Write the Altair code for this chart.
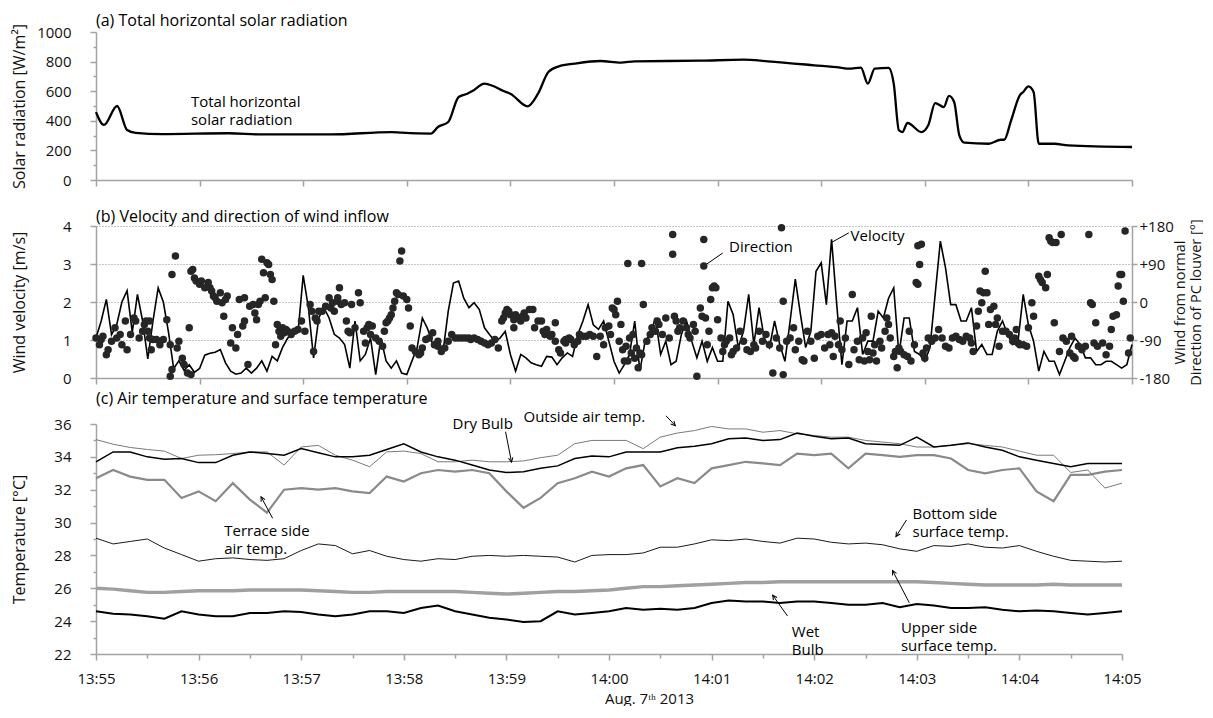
import math
from datetime import datetime, timedelta
import altair as alt
import pandas as pd

# ---------------- data ----------------
# (a) total horizontal solar radiation: seconds after 13:55:00, W/m2
solar_sec = [0, 4.6, 12.2, 18, 23, 38, 77, 96, 136, 171,
             177, 194, 198, 204, 210, 215, 218, 225, 230, 236,
             240, 250, 256, 262, 268, 277, 292, 304, 312, 350,
             375, 389, 416, 431, 436, 443, 447, 451, 459, 462,
             465, 467, 470, 478, 482, 486, 491, 494, 497, 500,
             503, 517, 524, 526, 530, 535, 537, 540, 543, 546,
             555, 563, 600]
solar_wm2 = [459, 372, 500, 338, 318, 310, 316, 308, 308, 324,
             320, 314, 358, 392, 561, 583, 601, 651, 635, 601,
             583, 498, 583, 730, 768, 786, 804, 793, 802, 806,
             813, 802, 775, 759, 752, 759, 651, 752, 757, 651,
             336, 324, 385, 324, 370, 520, 493, 568, 527, 302,
             252, 245, 272, 272, 403, 572, 595, 633, 595, 245,
             245, 234, 223]

# (b) wind velocity, one value every 3 s from 13:55:00 (m/s)
velocity_step_s = 3
velocity_ms = [
    1.05, 1.5, 2.07, 1.14, 1.4, 2.0, 2.3, 1.2, 2.2, 1.5,
    0.5, 1.5, 2.37, 2.0, 1.2, 0.25, 0.45, 0.2, 0.35, 0.15,
    0.25, 0.6, 0.65, 0.68, 0.75, 0.4, 0.18, 0.1, 0.13, 0.26,
    0.13, 0.26, 0.45, 0.18, 0.57, 0.45, 0.8, 1.05, 1.15, 1.2,
    2.7, 1.85, 0.53, 1.58, 1.85, 1.58, 1.15, 1.05, 0.88, 0.26,
    1.5, 0.45, 0.62, 1.05, 0.09, 1.05, 0.45, 0.26, 0.45, 0.13,
    0.09, 0.45, 0.8, 1.58, 1.3, 0.88, 0.97,
    0.7, 1.76, 2.5, 2.55, 2.1, 1.85, 1.98, 1.8, 1.32, 1.14,
    0.97, 1.05, 1.23, 0.62, 0.18, 0.62, 0.53, 0.4, 0.35, 0.31,
    0.57, 0.55, 0.35, 0.53, 0.66, 0.57, 1.14, 1.5, 1.93, 1.4,
    1.28, 1.5, 0.97, 0.44, 0.13, 0.35, 0.62, 1.5, 0.18, 0.97,
    1.14, 1.58, 0.62, 0.97, 0.35, 0.44, 1.14, 1.5, 0.97, 0.53,
    0.97, 0.44, 0.8, 0.44, 0.44, 2.02, 1.67, 0.8, 1.23, 2.2,
    0.88, 1.85, 1.05, 0.8, 1.5, 0.88,
    0.44, 1.5, 2.6, 1.67, 0.8, 1.23, 2.81, 3.03, 1.93, 3.65,
    1.93, 0.35, 1.5, 1.5, 1.85, 0.62, 0.97, 0.97, 1.76, 1.58,
    2.1, 2.37, 0.62, 1.58, 1.58, 0.7, 0.62, 0.44, 0.8, 2.2,
    3.6, 2.9, 1.93, 1.93, 1.5, 1.5, 1.85, 0.7, 0.88, 0.62,
    0.62, 1.23, 1.5, 1.14, 0.88, 0.97, 2.2, 1.4, 0.97, 0.18,
    0.7, 0.44, 0.44, 0.09, 0.44, 0.8, 1.05, 0.88, 0.53, 0.53,
    0.35, 0.35, 0.44, 0.44, 0.35, 0.26, 0.35, 0.88]

# (b) wind direction from normal of PC louver: (seconds, degrees)
direction_points = [
    (0, -85), (2, -101), (3, -89), (4, -81), (6, -125), (7, -113), (9, -93), (11, -61), (12, -85), (14, -77),
    (15, -101), (17, -45), (18, -113), (20, -77), (22, -38), (23, -45), (25, -85), (27, -69), (28, -53), (29, -45),
    (30, -69), (31, -45), (31, -85), (32, -113), (33, -89), (35, -89), (37, -101), (39, -89), (41, -42), (43, -101),
    (43, -176), (44, 65), (44, -160), (46, 109), (47, -109), (48, -93), (50, -133), (51, -148), (53, -168), (54, -61),
    (55, -172), (55, 73), (56, 77), (57, 57), (58, 50), (60, 42), (61, 50), (63, 34), (65, 46), (66, 34),
    (67, 26), (68, 14), (69, 10), (70, 2), (72, 22), (73, -2), (74, -34), (75, 6), (76, 14), (78, -97),
    (79, -61), (81, -109), (82, -77), (83, 6), (85, -57), (86, -45), (86, 10), (88, -148), (89, -10), (91, -6),
    (92, -26), (93, -42), (94, -6), (95, 2), (96, 101), (97, 69), (98, 10), (99, 93), (100, 89), (101, 65),
    (102, 53), (103, 2), (104, -101), (105, -53), (106, -69), (107, -81), (108, -61), (109, -73), (110, -65), (111, -69),
    (113, -77), (115, -69), (117, -65), (119, -45), (121, -69), (124, -6), (125, -22), (126, -117), (127, -38), (128, -45),
    (129, -22), (131, -22), (133, -10), (135, 10), (136, -14), (137, -2), (138, -22), (140, 10), (140, 2), (141, 34),
    (142, -6), (144, -2), (145, -45), (146, -69), (147, -73), (148, -6), (150, -61), (152, 22), (153, -2), (155, -69),
    (156, -97), (157, -61), (158, -53), (159, -77), (160, -57), (162, -85), (164, -93), (166, -105), (167, -69), (168, -49),
    (169, -45), (170, -38), (171, -30), (172, -14), (173, 2), (174, 22), (175, 18), (176, 97), (177, 121), (178, 14),
    (180, 6), (181, -14), (182, -57), (183, -109), (185, -117), (187, -125), (188, -121), (189, -109), (191, -89), (193, -85),
    (195, -73), (196, -101), (198, -93),
    (198, -105), (200, -117), (202, -109), (204, -93), (206, -77), (208, -85), (210, -85), (212, -85), (214, -85), (216, -85),
    (217, -89), (219, -85), (221, -89), (223, -93), (225, -97), (227, -101), (229, -97), (231, -89), (233, -109), (235, -45),
    (236, -38), (237, -26), (238, -18), (239, -22), (240, -30), (242, -61), (242, -42), (243, -30), (245, -38), (246, -45),
    (247, -34), (248, -26), (249, -38), (251, -18), (253, -18), (254, -61), (256, -45), (258, -45), (259, -69), (260, -77),
    (261, -65), (263, -81), (264, -77), (266, -49), (266, -93), (268, -113), (269, -121), (271, -93), (272, -97), (272, -89),
    (274, -85), (275, -89), (277, -101), (279, -93), (280, -77), (282, -81), (284, -81), (286, -77), (288, -81), (290, -129),
    (292, -81), (294, -101), (295, -61), (297, -57), (298, -77), (299, -14), (300, -18), (301, -30), (302, 2), (303, -93),
    (304, -53), (305, -113), (306, -140), (307, -105), (308, -140), (308, 91), (309, -85), (310, -121), (311, -77), (312, -133),
    (313, -109), (314, -156), (315, -121), (316, -125), (316, 91), (317, -6), (319, -93), (321, -77), (322, -61), (324, -69),
    (325, -45), (326, -53), (328, -77), (330, -38), (332, -85), (334, 160), (334, 113), (335, -34), (336, -45), (337, -69),
    (338, -61), (340, -45), (342, -61), (343, -77), (344, -85), (346, -53), (347, -69), (348, -176), (350, -14), (351, -34),
    (352, 85), (352, 148), (353, -38), (354, -101), (355, -69), (356, 6), (357, 34), (358, 38), (359, 34), (360, -42),
    (362, -85), (363, -117), (364, -101), (365, -93), (367, -85), (368, -125), (369, -117), (371, -109), (373, -69), (375, -93),
    (377, -113), (379, -117), (381, -101), (382, -109), (384, -69), (386, -93), (388, -77), (390, -101), (392, -168), (394, -85),
    (396, -109), (397, 176), (398, 2), (398, -172),
    (400, -93), (402, -85), (404, -61), (405, -113), (407, -93), (409, -137), (410, -140), (412, -69), (414, -93), (416, -133),
    (418, -81), (420, -77), (422, -109), (424, -77), (425, -101), (426, -73), (427, -129), (428, -81), (430, -101), (431, -45),
    (432, -113), (434, -85), (436, -148), (438, 18), (439, -113), (441, -93), (442, -137), (444, -85), (445, -140), (446, -73),
    (447, -117), (448, -137), (449, -34), (450, -121), (451, -101), (452, -140), (454, -93), (455, -109), (457, -69), (458, -38),
    (459, -53), (460, -85), (462, -129), (463, -117), (464, -156), (465, -109), (466, -117), (468, -125), (470, -129), (471, -69),
    (472, -140), (474, -101), (475, 46), (476, 42), (476, 133), (477, 89), (478, 137), (479, -121), (480, -133), (481, -109),
    (482, -85), (484, -93), (486, -85), (488, -65), (490, -85), (492, -105), (494, -109), (496, -85), (498, -81), (500, -89),
    (502, -93), (504, -81), (506, -85), (507, -97), (508, -117), (510, -57), (511, -22), (512, 26), (513, -2), (514, 22),
    (515, 73), (516, 22), (517, -53), (518, -18), (520, -10), (521, -53), (522, -38), (523, -105), (525, -69), (527, -69),
    (529, -77), (531, -93), (532, -85), (533, -65), (534, -97), (535, -101), (537, -101), (539, -105), (540, -61), (542, -2),
    (543, -34), (546, 61), (547, 53), (548, 46), (550, 34), (551, 65), (552, 152), (553, 144), (554, 141), (555, -49),
    (556, 141), (558, -117), (559, 160), (560, -85), (562, -93), (564, -121), (565, -81), (566, -129), (567, -133), (569, -105),
    (571, -113), (573, -105), (575, 160), (576, -2), (577, -6), (578, -97), (579, -49), (580, -105), (583, -97), (585, -125),
    (587, -105), (588, -65), (589, -34), (591, -30), (592, 38), (593, 65), (594, 65), (595, 2), (596, 168), (598, -121),
    (599, -85)]

# (c) temperatures, one value every 10 s from 13:55:00 (deg C)
temp_step_s = 10
outside_air = [35.05, 34.77, 34.57, 34.45, 34.35, 33.9, 34.1, 34.13, 34.2, 34.3,
               34.3, 33.5, 34.6, 34.7, 34.1, 33.8, 33.4, 34.3, 34.35, 34.2,
               33.7, 33.7, 33.8, 33.7, 33.7, 33.75, 33.95, 34.1, 34.8, 35.0,
               35.0, 35.0, 34.5, 35.2, 35.45, 35.6, 35.85, 35.7, 35.7, 35.5,
               35.6, 35.4, 35.3, 35.2, 35.2, 35.0, 34.9, 34.8, 34.6, 34.6,
               34.7, 34.8, 34.7, 34.6, 34.35, 34.1, 34.1, 33.05, 33.2, 32.1, 32.4]
dry_bulb = [33.7, 34.3, 34.3, 34.0, 33.85, 33.9, 33.65, 33.65, 34.1, 34.3,
            34.2, 34.1, 34.5, 34.25, 34.0, 34.0, 34.1, 34.45, 34.8, 34.3,
            34.0, 33.8, 33.5, 33.2, 33.05, 33.1, 33.3, 33.45, 33.9, 34.05,
            34.0, 34.3, 34.3, 34.3, 34.55, 34.65, 34.8, 35.1, 35.15, 35.0,
            35.05, 35.45, 35.25, 35.1, 35.15, 34.8, 34.75, 34.7, 35.2, 34.6,
            34.7, 34.85, 34.6, 34.4, 34.0, 33.8, 33.6, 33.4, 33.6, 33.6, 33.6]
terrace_air = [32.7, 33.2, 32.8, 32.6, 32.6, 31.5, 31.9, 31.3, 32.4, 31.4,
               30.6, 32.0, 32.1, 32.0, 32.1, 31.9, 31.8, 32.8, 32.5, 33.0,
               33.2, 33.1, 33.2, 33.0, 31.9, 30.9, 31.5, 32.4, 32.7, 33.1,
               32.8, 33.3, 33.5, 32.2, 32.7, 32.4, 33.3, 33.5, 33.7, 33.6,
               33.5, 34.2, 34.1, 34.2, 33.3, 34.2, 34.1, 34.0, 34.1, 34.1,
               33.9, 33.2, 33.0, 33.2, 33.3, 31.9, 31.3, 32.9, 32.9, 33.1, 33.2]
bottom_surface = [29.05, 28.7, 28.85, 29.0, 28.45, 28.05, 27.65, 27.8, 27.85, 27.75,
                  27.7, 27.8, 28.3, 28.7, 28.6, 28.1, 28.3, 27.95, 27.75, 27.65,
                  27.8, 27.75, 27.95, 28.0, 27.95, 28.0, 27.95, 27.9, 27.6, 28.0,
                  28.05, 28.05, 28.15, 28.5, 28.5, 28.7, 28.95, 28.9, 29.0, 28.85,
                  28.75, 29.05, 29.0, 28.8, 28.7, 28.75, 28.65, 28.4, 28.25, 28.6,
                  28.55, 28.7, 28.5, 28.45, 28.6, 28.25, 27.95, 27.7, 27.65, 27.6, 27.65]
upper_surface = [26.0, 25.95, 25.85, 25.75, 25.75, 25.8, 25.85, 25.85, 25.85, 25.9,
                 25.9, 25.9, 25.9, 25.85, 25.8, 25.75, 25.75, 25.8, 25.8, 25.8,
                 25.8, 25.8, 25.75, 25.7, 25.65, 25.7, 25.75, 25.8, 25.8, 25.85,
                 25.9, 26.0, 26.1, 26.1, 26.15, 26.2, 26.25, 26.3, 26.35, 26.35,
                 26.4, 26.4, 26.4, 26.4, 26.4, 26.4, 26.4, 26.4, 26.4, 26.35,
                 26.3, 26.25, 26.2, 26.2, 26.2, 26.2, 26.25, 26.2, 26.2, 26.2, 26.2]
wet_bulb = [24.6, 24.45, 24.4, 24.3, 24.15, 24.6, 24.4, 24.3, 24.3, 24.5,
            24.5, 24.6, 24.55, 24.4, 24.3, 24.4, 24.6, 24.6, 24.5, 24.8,
            24.95, 24.6, 24.4, 24.2, 24.1, 23.95, 24.0, 24.6, 24.4, 24.5,
            24.6, 24.8, 24.7, 24.75, 24.7, 24.8, 25.1, 25.25, 25.2, 25.2,
            25.1, 25.2, 25.2, 25.1, 25.0, 25.0, 25.1, 24.85, 25.05, 24.95,
            24.8, 24.8, 24.85, 24.7, 24.6, 24.65, 24.6, 24.5, 24.4, 24.5, 24.6]

# texts (multi-line labels: position is the centre of the text block)
panel_titles = ["(a) Total horizontal solar radiation",
                "(b) Velocity and direction of wind inflow",
                "(c) Air temperature and surface temperature"]
solar_notes = [(55, 530, "Total horizontal\nsolar radiation")]
wind_notes = [(366.6, 3.45, "Direction"), (437, 3.74, "Velocity")]
wind_leaders = [(351.5, 2.93, 363, 3.29), (425.7, 3.56, 436, 3.82)]
temp_notes = [(75, 29.5, "Terrace side\nair temp."),
              (208.5, 36.0, "Dry Bulb"), (250, 36.4, "Outside air temp."),
              (477.5, 30.55, "Bottom side\nsurface temp."),
              (470.7, 23.6, "Upper side\nsurface temp."),
              (406.9, 23.35, "Wet\nBulb")]
# arrows: tail (t, T) -> head (t, T)
temp_arrows = [(103.3, 30.26, 96.5, 31.57), (239.5, 35.53, 243, 33.68),
               (333.3, 36.5, 338.8, 35.9), (474, 30.16, 467.8, 29.15),
               (475.6, 25.12, 465.8, 27.08), (404.4, 24.31, 395.7, 25.58)]

# ---------------- helpers ----------------
FONT = "Open Sans"
GRAY = "#a3a3a3"
W_AB, W_C = 1036, 1026
H_A, H_B, H_C = 148, 152, 230
BASE = datetime(2013, 8, 7, 13, 55, 0)


def ts(sec):
    return (BASE + timedelta(seconds=float(sec))).isoformat(timespec="milliseconds")


def dtime(sec):
    d = BASE + timedelta(seconds=sec)
    return alt.DateTime(year=d.year, month=d.month, date=d.day,
                        hours=d.hour, minutes=d.minute, seconds=d.second)


X_SCALE = alt.Scale(domain=[dtime(0), dtime(600)], nice=False)
minute_ticks = [dtime(60 * i) for i in range(11)]
half_ticks = [dtime(30 * i) for i in range(21)]

axis_x_nolabel = alt.Axis(values=minute_ticks, labels=False, title=None, grid=False,
                          tickSize=6, domain=True)
axis_x_c = alt.Axis(values=half_ticks, format="%H:%M", grid=False,
                    labelExpr="seconds(datum.value) == 0 ? datum.label : ''",
                    tickSize={"condition": {"test": "seconds(datum.value) == 0", "value": 6}, "value": 4},
                    labelPadding=11, labelFlush=False, labelOverlap=False,
                    title="Aug. 7ᵗʰ 2013", titleFontSize=15, titleX=553, titleY=37,
                    titleBaseline="top", titleAlign="center")


def x_ab():
    return alt.X("t:T", scale=X_SCALE, axis=axis_x_nolabel)


def x_c():
    return alt.X("t:T", scale=X_SCALE, axis=axis_x_c)


def ptitle(text, offset):
    return alt.TitleParams(text=text, anchor="start", frame="group", font=FONT, fontSize=16,
                           fontWeight="normal", color="#000", offset=offset)


def text_layer(df, x, y):
    return alt.Chart(df).mark_text(font=FONT, fontSize=15, align="left", baseline="middle",
                                   lineBreak="\n", lineHeight=18.5,
                                   color="#000").encode(x=x, y=y, text="label:N")


# ---------------- panel (a) ----------------
y_a = alt.Y("v:Q", scale=alt.Scale(domain=[0, 1000], nice=False),
            axis=alt.Axis(values=list(range(0, 1001, 100)), format="d",
                          labelExpr="datum.value % 200 == 0 ? datum.label : ''",
                          tickSize={"condition": {"test": "datum.value % 200 == 0", "value": 6}, "value": 3},
                          labelPadding=19, labelOverlap=False, grid=False,
                          title="Solar radiation [W/m²]", titleAngle=270, titleBaseline="middle",
                          titleX=-77, titleY=H_A / 2, titleAlign="center"))
solar_df = pd.DataFrame({"t": [ts(s) for s in solar_sec], "v": solar_wm2})
solar_line = alt.Chart(solar_df).mark_line(color="#000", strokeWidth=2.3, interpolate="monotone").encode(
    x=x_ab(), y=y_a)
solar_text_df = pd.DataFrame({"t": [ts(n[0]) for n in solar_notes], "v": [n[1] for n in solar_notes],
                              "label": [n[2] for n in solar_notes]})
panel_a = alt.layer(solar_line, text_layer(solar_text_df, x_ab(), y_a)).properties(
    width=W_AB, height=H_A, title=ptitle(panel_titles[0], -5))

# ---------------- panel (b) ----------------
y_b = alt.Y("v:Q", scale=alt.Scale(domain=[0, 4], nice=False),
            axis=alt.Axis(values=[0, 1, 2, 3, 4], format="d", tickSize=6, labelPadding=19,
                          grid=True, gridDash=[1, 2], gridColor="#8c8c8c", gridWidth=1,
                          title="Wind velocity  [m/s]", titleAngle=270, titleBaseline="middle",
                          titleX=-77, titleY=H_B / 2, titleAlign="center"))
vel_df = pd.DataFrame({"t": [ts(velocity_step_s * i) for i in range(len(velocity_ms))], "v": velocity_ms})
vel_line = alt.Chart(vel_df).mark_line(color="#000", strokeWidth=1.6).encode(x=x_ab(), y=y_b)
lead_df = pd.DataFrame({"t": [ts(l[0]) for l in wind_leaders], "v": [l[1] for l in wind_leaders],
                        "t2": [ts(l[2]) for l in wind_leaders], "v2": [l[3] for l in wind_leaders]})
lead_rules = alt.Chart(lead_df).mark_rule(color="#000", strokeWidth=1).encode(
    x=x_ab(), y=y_b, x2=alt.X2("t2"), y2=alt.Y2("v2"))
wind_text_df = pd.DataFrame({"t": [ts(n[0]) for n in wind_notes], "v": [n[1] for n in wind_notes],
                             "label": [n[2] for n in wind_notes]})
left_b = alt.layer(vel_line, lead_rules, text_layer(wind_text_df, x_ab(), y_b))

dir_df = pd.DataFrame({"t": [ts(p[0]) for p in direction_points], "d": [p[1] for p in direction_points]})
dir_points = alt.Chart(dir_df).mark_circle(color="#262626", opacity=1, size=56).encode(
    x=x_ab(),
    y=alt.Y("d:Q", scale=alt.Scale(domain=[-180, 180], nice=False),
            axis=alt.Axis(orient="right", values=[-180, -90, 0, 90, 180], grid=False,
                          labelExpr="datum.value > 0 ? '+' + datum.value : '' + datum.value",
                          tickSize=5, labelPadding=2,
                          title=["Wind  from normal", "Direction of PC louver [°]"],
                          titleFontSize=14.5, titleAngle=270, titleBaseline="top", titleAlign="center",
                          titleX=41, titleY=H_B / 2, titleLineHeight=16)))
panel_b = alt.layer(left_b, dir_points).resolve_scale(y="independent").properties(
    width=W_AB, height=H_B, title=ptitle(panel_titles[1], -6))

# ---------------- panel (c) ----------------
y_c = alt.Y("v:Q", scale=alt.Scale(domain=[22, 36], nice=False),
            axis=alt.Axis(values=list(range(22, 37)), format="d",
                          labelExpr="datum.value % 2 == 0 ? datum.label : ''",
                          tickSize={"condition": {"test": "datum.value % 2 == 0", "value": 6}, "value": 3},
                          labelPadding=19, labelOverlap=False, grid=False,
                          title="Temperature [°C]", titleAngle=270, titleBaseline="middle",
                          titleX=-77, titleY=H_C / 2, titleAlign="center"))

series_styles = [
    (upper_surface, "#a0a0a0", 3.4),
    (terrace_air, "#8a8a8a", 2.2),
    (outside_air, "#7a7a7a", 1.0),
    (dry_bulb, "#000000", 1.5),
    (bottom_surface, "#000000", 0.9),
    (wet_bulb, "#000000", 2.0),
]
temp_layers = []
for vals, col, sw in series_styles:
    df = pd.DataFrame({"t": [ts(temp_step_s * i) for i in range(len(vals))], "v": vals})
    temp_layers.append(alt.Chart(df).mark_line(color=col, strokeWidth=sw).encode(x=x_c(), y=y_c))

px_t = W_C / 600.0
px_v = H_C / 14.0
arrow_df = pd.DataFrame({
    "t": [ts(a[0]) for a in temp_arrows], "v": [a[1] for a in temp_arrows],
    "t2": [ts(a[2]) for a in temp_arrows], "v2": [a[3] for a in temp_arrows],
})
head_df = pd.DataFrame({
    "t": [ts(a[2]) for a in temp_arrows], "v": [a[3] for a in temp_arrows],
    "ang": [math.degrees(math.atan2((a[2] - a[0]) * px_t, (a[3] - a[1]) * px_v)) % 360 for a in temp_arrows],
})
arrow_rules = alt.Chart(arrow_df).mark_rule(color="#000", strokeWidth=1).encode(
    x=x_c(), y=y_c, x2=alt.X2("t2"), y2=alt.Y2("v2"))
arrow_heads = alt.Chart(head_df).mark_point(
    shape="M -0.7 1.4 L 0 0 L 0.7 1.4", filled=False, color="#000", strokeWidth=1, size=40, opacity=1
).encode(x=x_c(), y=y_c, angle=alt.Angle("ang:Q", scale=None))
temp_text_df = pd.DataFrame({"t": [ts(n[0]) for n in temp_notes], "v": [n[1] for n in temp_notes],
                             "label": [n[2] for n in temp_notes]})
panel_c = alt.layer(*temp_layers, arrow_rules, arrow_heads, text_layer(temp_text_df, x_c(), y_c)).properties(
    width=W_C, height=H_C, title=ptitle(panel_titles[2], 3))

chart = alt.vconcat(panel_a, panel_b, panel_c, spacing=46, bounds="flush").properties(
    padding={"left": 3, "top": 4, "right": 0, "bottom": 0}
).configure_view(stroke=None).configure_axis(
    domainColor=GRAY, tickColor=GRAY, domainWidth=1.5, tickWidth=1.5,
    labelFont=FONT, labelFontSize=15, labelColor="#111",
    titleFont=FONT, titleFontSize=16, titleFontWeight="normal", titleColor="#111"
)

chart.save("out.html", embed_options={"renderer": "svg", "actions": False})
